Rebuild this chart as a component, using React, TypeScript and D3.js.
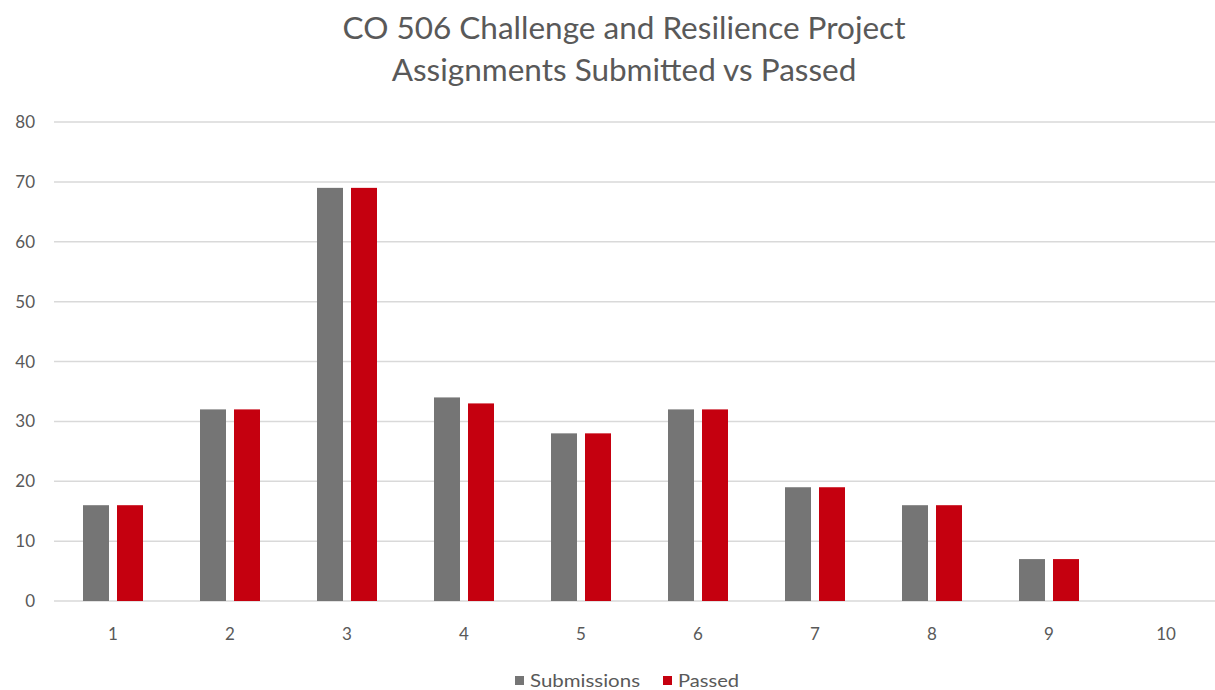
import React from "react";
import * as d3 from "d3";

const categories = ["1", "2", "3", "4", "5", "6", "7", "8", "9", "10"];
const submissions = [16, 32, 69, 34, 28, 32, 19, 16, 7, 0];
const passed = [16, 32, 69, 33, 28, 32, 19, 16, 7, 0];
const yTicks = [0, 10, 20, 30, 40, 50, 60, 70, 80];
const seriesNames = ["Submissions", "Passed"];
const seriesColors = ["#757575", "#C5000F"];
const titleLines = ["CO 506 Challenge and Resilience Project", "Assignments Submitted vs Passed"];

export default function App() {
  const W = 1215, H = 690;
  const x = d3.scaleBand().domain(categories).range([54.5, 1224.5]).paddingInner(0).paddingOuter(0);
  const y = d3.scaleLinear().domain([0, 80]).range([601, 122]);
  const barW = 26, gap = 8;
  const series = [submissions, passed];
  const font = "Lato, 'Open Sans', sans-serif";
  const textColor = "#595959";
  return (
    <svg width={W} height={H} style={{ position: "absolute", left: 0, top: 0, background: "#fff" }}>
      <rect width={W} height={H} fill="#fff" />
      {titleLines.map((t, i) => (
        <text key={i} x={624} y={39 + i * 42} textAnchor="middle" fontFamily={font} fontSize={31.5} fill={textColor}>
          {t}
        </text>
      ))}
      {yTicks.map((t) => (
        <g key={t}>
          <line x1={54} x2={1215} y1={y(t)} y2={y(t)} stroke="#d9d9d9" strokeWidth={1.5} />
          <text x={35} y={y(t) + 6} textAnchor="end" fontFamily={font} fontSize={17} fill={textColor}>
            {t}
          </text>
        </g>
      ))}
      {categories.map((c, i) => {
        const cx = (x(c) as number) + x.bandwidth() / 2;
        return (
          <g key={c}>
            {series.map((s, k) => {
              const bx = cx - gap / 2 - barW + k * (barW + gap);
              return s[i] > 0 ? (
                <rect key={k} x={bx} y={y(s[i])} width={barW} height={y(0) - y(s[i])} fill={seriesColors[k]} />
              ) : null;
            })}
            <text x={cx} y={640} textAnchor="middle" fontFamily={font} fontSize={17} fill={textColor}>
              {c}
            </text>
          </g>
        );
      })}
      {seriesNames.map((n, k) => {
        const lx = k === 0 ? 515 : 663;
        return (
          <g key={n}>
            <rect x={lx} y={676} width={9} height={9} fill={seriesColors[k]} />
            <text
              x={lx + 15}
              y={687}
              fontFamily={font}
              fontSize={17}
              fill={textColor}
              textLength={k === 0 ? 110 : 61}
              lengthAdjust="spacingAndGlyphs"
            >
              {n}
            </text>
          </g>
        );
      })}
    </svg>
  );
}
